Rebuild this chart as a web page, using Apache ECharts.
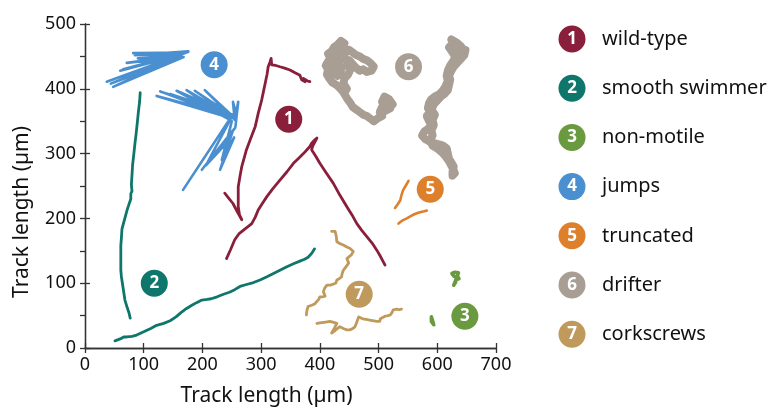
<!DOCTYPE html>
<html><head><meta charset="utf-8">
<script src="https://cdn.jsdelivr.net/npm/echarts@6/dist/echarts.min.js"></script>
<style>html,body{margin:0;padding:0;background:#fff}#c{width:774px;height:412px}</style>
</head><body><div id="c"></div>
<script>
const names = ['wild-type','smooth swimmer','non-motile','jumps','truncated','drifter','corkscrews'];
const colors = ['#8a1f3b','#0f766b','#6a9a3f','#4a8fd0','#de7f2c','#a89e94','#c09a5c'];
const xTicks = [0,100,200,300,400,500,600,700];
const yTicks = [0,100,200,300,400,500];
const labelX = [347,118,647,220,588,551,467];
const labelY = [353,100,49,437,245,434,83];

const wild1 = [[238,239],[245,231],[252,223],[259,211],[267,198],[263,206],[261,218],[261,233],[261,249],[264,265],[267,280],[271,293],[275,306],[282,323],[290,342],[295,362],[301,383],[304,396],[307,409],[310,422],[312,434],[315,441],[317,447],[318,437],[325,436],[332,434],[340,432],[349,429],[357,425],[366,421],[369,414],[375,411],[372,416],[379,412],[383,411]];
const wild2 = [[241,138],[248,152],[255,167],[258,170],[262,176],[270,182],[284,192],[290,202],[295,213],[302,223],[310,234],[320,246],[332,259],[344,272],[355,285],[364,293],[372,300],[378,306],[383,311],[386,316],[390,320],[395,324],[388,312],[386,306],[393,296],[400,285],[411,270],[423,254],[434,236],[446,218],[455,205],[463,192],[471,182],[480,172],[489,162],[497,151],[504,140],[511,128]];
const swim1 = [[94,394],[93,380],[91,365],[89,347],[87,330],[85,315],[83,298],[81,282],[80,266],[79,252],[80,242],[78,238],[78,230],[75,222],[72,214],[69,204],[66,194],[63,184],[62,170],[61,158],[61,146],[61,133],[61,120],[62,110],[64,98],[66,86],[68,74],[72,62],[75,54],[77,46]];
const swim2 = [[51,11],[60,14],[66,17],[71,17],[80,18],[88,20],[100,25],[112,30],[122,35],[134,38],[145,42],[155,48],[164,55],[173,61],[182,66],[190,70],[199,74],[208,75],[215,76],[225,79],[236,83],[246,86],[255,90],[264,95],[275,98],[287,101],[298,105],[310,110],[321,115],[332,120],[343,125],[355,130],[366,134],[374,137],[380,140],[386,146],[391,153]];
const still1 = [[625,115],[630,117],[636,116],[639,114],[634,111],[637,107],[632,105],[631,101],[628,97],[627,94],[630,99],[633,108],[628,111],[625,115]];
const still2 = [[590,48],[593,47],[592,42],[595,40],[594,36],[596,33],[593,37],[590,41],[592,44],[590,48]];
const jump1 = [[176,457],[37,411],[162,452],[48,403],[168,449],[82,455],[172,456],[65,430],[158,450],[71,440],[150,448],[90,447],[165,453],[60,428],[170,455],[85,452],[176,458],[112,450],[160,447],[44,408],[155,450]];
const jump2 = [[167,244],[250,358],[122,389],[248,355],[128,396],[250,360],[156,397],[247,352],[173,398],[252,356],[187,397],[249,360],[204,398],[255,352],[252,380],[257,362],[261,380],[256,340],[199,275],[252,336],[230,275],[254,325],[233,290],[250,350],[241,316],[206,282],[252,360],[145,392],[246,356]];
const trunc1 = [[551,258],[546,250],[542,244],[539,236],[537,228],[532,221],[528,216]];
const trunc2 = [[534,192],[541,197],[548,200],[554,203],[560,206],[565,208],[572,210],[578,211],[582,212]];
const drift1 = [[524,376],[518,384],[510,388],[506,380],[514,374],[520,370],[512,366],[506,372],[502,364],[506,358],[498,354],[492,350],[486,354],[480,358],[474,360],[468,364],[462,368],[456,372],[452,378],[447,384],[443,390],[439,396],[434,401],[428,406],[421,410],[416,416],[412,422],[414,430],[410,436],[414,442],[418,448],[414,454],[420,458],[424,464],[430,468],[436,474],[442,470],[438,462],[432,456],[426,450],[422,440],[428,434],[424,426],[430,420],[436,428],[432,440],[438,448],[444,456],[450,460],[456,456],[462,452],[468,450],[474,446],[480,444],[486,440],[492,434],[488,428],[480,426],[474,430],[468,428],[462,432],[456,438],[450,444],[446,436],[452,430],[448,422],[442,416],[440,408],[446,400],[442,394]];
const drift2 = [[624,476],[632,472],[640,466],[646,458],[640,452],[632,448],[626,456],[620,464],[626,470],[634,462],[628,444],[622,436],[618,428],[616,420],[618,412],[614,404],[610,398],[604,392],[596,388],[590,384],[586,378],[584,370],[588,364],[582,358],[586,350],[590,344],[584,338],[578,334],[574,328],[580,322],[588,318],[596,316],[604,314],[610,312],[616,308],[618,300],[620,292],[624,286],[628,280],[626,272],[626,266],[630,270],[626,278],[620,288],[614,296],[608,302],[600,308],[592,312],[588,320],[592,328],[590,336],[594,344],[592,352],[596,360],[590,368],[594,376],[600,382],[606,388],[612,392],[618,398],[620,406],[622,414],[620,420],[624,428],[628,434],[634,440],[640,446],[646,452],[648,460]];
const cork1 = [[420,180],[426,180],[428,172],[429,164],[434,161],[440,159],[446,156],[451,154],[457,149],[454,144],[451,141],[446,138],[449,131],[445,126],[440,120],[438,115],[437,110],[433,107],[429,105],[427,100],[426,97],[418,97],[412,97],[408,92],[406,87],[409,80],[404,79],[400,79],[398,75],[397,72],[391,68],[386,66],[380,64],[378,58],[377,51]];
const cork2 = [[395,38],[403,39],[410,40],[417,41],[422,40],[429,38],[425,31],[420,23],[426,27],[434,33],[440,30],[446,28],[451,28],[456,30],[460,33],[463,40],[466,48],[473,45],[479,44],[485,43],[492,42],[497,41],[502,41],[503,45],[505,48],[511,49],[516,50],[520,51],[523,55],[525,59],[531,60],[535,59],[539,60]];

const groups = [[wild1,wild2],[swim1,swim2],[still1,still2],[jump1,jump2],[trunc1,trunc2],[drift1,drift2],[cork1,cork2]];
const widths = [2.8,2.8,3.6,2.6,2.6,8,2.8];

const series = [];
groups.forEach((g,i)=>{
  g.forEach(track=>{
    series.push({type:'line',data:track,showSymbol:false,symbol:'none',silent:true,
      lineStyle:{color:colors[i],width:widths[i],join:'round',cap:'round'},z:2,animation:false});
  });
});
series.push({type:'scatter',data:labelX.map((x,i)=>({value:[x,labelY[i]],itemStyle:{color:colors[i],opacity:1},label:{formatter:String(i+1)}})),
  symbolSize:27,z:5,animation:false,itemStyle:{opacity:1},
  label:{show:true,position:'inside',color:'#fff',fontWeight:'bold',fontSize:17,fontFamily:'Noto Sans'}});

const graphic = [];
names.forEach((n,i)=>{
  const cy = 39 + i*49.2;
  graphic.push({type:'circle',shape:{cx:572,cy:cy,r:13.5},style:{fill:colors[i]}});
  graphic.push({type:'text',x:572,y:cy,style:{text:String(i+1),fill:'#fff',font:'bold 17px "Noto Sans"',textAlign:'center',textVerticalAlign:'middle'}});
  graphic.push({type:'text',x:602,y:cy,style:{text:n,fill:'#111',font:'20px "Noto Sans"',textAlign:'left',textVerticalAlign:'middle'}});
});

const axisLine = {show:true,lineStyle:{color:'#333',width:1.3}};
const axisTick = {show:true,inside:true,length:5,lineStyle:{color:'#333',width:1.3}};
const chart = echarts.init(document.getElementById('c'),null,{renderer:'canvas'});
chart.setOption({
  animation:false,
  grid:{left:85,top:24,width:411,height:324,containLabel:false},
  xAxis:[
    {type:'value',min:xTicks[0],max:xTicks[xTicks.length-1],interval:100,position:'bottom',
     axisLine,axisTick,splitLine:{show:false},
     axisLabel:{color:'#111',fontSize:18,fontFamily:'Noto Sans',margin:8},
     name:'Track length (µm)',nameLocation:'middle',nameGap:38,
     nameTextStyle:{color:'#111',fontSize:21,fontFamily:'Noto Sans',padding:[0,48,0,0]}},
    {type:'value',min:0,max:700,interval:100,position:'top',axisLine,axisTick,axisLabel:{show:false},splitLine:{show:false}}
  ],
  yAxis:[
    {type:'value',min:yTicks[0],max:yTicks[yTicks.length-1],interval:100,position:'left',
     axisLine,axisTick,splitLine:{show:false},
     axisLabel:{color:'#111',fontSize:18,fontFamily:'Noto Sans',margin:9},
     name:'Track length (µm)',nameLocation:'middle',nameGap:52,
     nameTextStyle:{color:'#111',fontSize:21,fontFamily:'Noto Sans',padding:[0,52,0,0]}},
    {type:'value',min:0,max:500,interval:50,position:'right',axisLine,axisTick,axisLabel:{show:false},splitLine:{show:false}}
  ],
  series:series,
  graphic:graphic
});
</script></body></html>
